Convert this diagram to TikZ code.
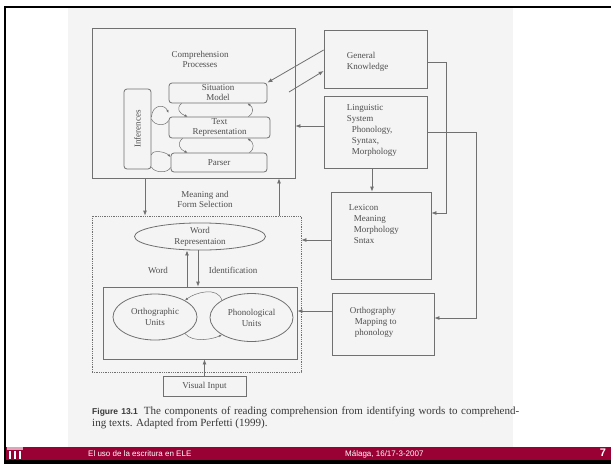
\documentclass[tikz,border=0pt]{standalone}
\usepackage{fontspec}
\setmainfont{Liberation Serif}
\newfontfamily\slidefont{Liberation Sans}
\usepackage{xcolor}
\usetikzlibrary{positioning,shapes.geometric,arrows.meta}
\definecolor{linegray}{RGB}{112,112,112}
\definecolor{inkgray}{RGB}{78,78,78}
\definecolor{scangray}{RGB}{244,244,244}
\definecolor{footred}{RGB}{153,0,51}

\begin{document}
\begin{tikzpicture}[x=1pt,y=-1pt,
box/.style={draw=linegray,line width=0.8pt,rectangle,inner sep=0pt,text=inkgray,
    font=\fontsize{9}{10}\selectfont,align=center},
pill/.style={box,rounded corners=3pt},
oval/.style={draw=linegray,line width=0.8pt,ellipse,inner sep=0pt,text=inkgray,
    font=\fontsize{9}{11}\selectfont,align=center},
txt/.style={text=inkgray,font=\fontsize{9}{11}\selectfont,align=left,inner sep=0pt,anchor=north west},
arr/.style={draw=linegray,line width=0.8pt,-{Latex[length=5pt,width=4pt]}},
curl/.style={draw=linegray,line width=0.5pt,-{Latex[length=3pt,width=2.5pt]}},
foot/.style={text=white,inner sep=0pt,font=\slidefont\fontsize{8}{9}\selectfont}]
\useasboundingbox (0,0) rectangle (611,464);
% slide frame and scanned page
\fill[scangray] (68,8) rectangle (513,447);
\fill[black] (4,6) rectangle (611,8);
\fill[black] (4,6) rectangle (6,464);
\fill[black] (4,460) rectangle (611,464);
\fill[footred] (6,447) rectangle (611,460);
\fill[footred!35] (7,447) rectangle (23,450);
\foreach \cx in {9,14,19}
  \fill[white] (\cx,451) rectangle ++(2,8);
\node (footleft) [foot,anchor=west] at (88,454) {El uso de la escritura en ELE};
\node (footmid) [foot,anchor=west] at (345,454) {Málaga, 16/17-3-2007};
\node (pagenum) [foot,font=\slidefont\bfseries\fontsize{11}{12}\selectfont] at (603,453) {7};

% comprehension processes
\node (compproc) [box,minimum width=203pt,minimum height=150pt] at (193.5,103) {};
\node (comptitle) [box,draw=none] at (200,59) {Comprehension\\Processes};
\node (sitmod) [pill,minimum width=98pt,minimum height=20pt] at (218,93) {Situation\\Model};
\node (textrep) [pill,minimum width=101pt,minimum height=21pt] at (219.5,127.5) {Text\\Representation};
\node (parser) [pill,minimum width=96pt,minimum height=19pt] at (219,162.5) {Parser};
\node (infer) [pill,minimum width=27pt,minimum height=80pt] at (137.5,129) {\rotatebox{90}{Inferences}};
\node (meanlbl) [box,draw=none] at (205,199) {Meaning and\\Form Selection};

% word identification
\node (wordbox) [box,densely dotted,minimum width=209pt,minimum height=156pt] at (196.5,294) {};
\node (wordrep) [oval,minimum width=131pt,minimum height=27pt] at (200,236.5) {Word\\Representaion};
\node (wordlbl) [box,draw=none] at (158,270) {Word};
\node (identlbl) [box,draw=none] at (233,270) {Identification};
\node (unitbox) [box,minimum width=194pt,minimum height=72pt] at (200,323) {};
\node (orthunit) [oval,minimum width=84pt,minimum height=46pt] at (155,317) {Orthographic\\Units};
\node (phonunit) [oval,minimum width=83pt,minimum height=48pt] at (251.5,317.5) {Phonological\\Units};
\node (visinput) [box,minimum width=83pt,minimum height=20pt] at (204.5,386) {Visual Input};

% knowledge sources
\node (genknow) [box,minimum width=103pt,minimum height=58pt] at (375.5,59) {};
\node (genknowtxt) [txt] at ([shift={(23,22)}]genknow.north west) {General\\Knowledge};
\node (lingsys) [box,minimum width=103pt,minimum height=72pt] at (375.5,132) {};
\node (lingsystxt) [txt] at ([shift={(23,9)}]lingsys.north west)
    {Linguistic\\System\\\hspace*{5pt}Phonology,\\\hspace*{5pt}Syntax,\\\hspace*{5pt}Morphology};
\node (lexicon) [box,minimum width=100pt,minimum height=87pt] at (381,235.5) {};
\node (lexicontxt) [txt] at ([shift={(18,13)}]lexicon.north west)
    {Lexicon\\\hspace*{5pt}Meaning\\\hspace*{5pt}Morphology\\\hspace*{5pt}Sntax};
\node (orthmap) [box,minimum width=102pt,minimum height=62pt] at (383,324) {};
\node (orthmaptxt) [txt] at ([shift={(18,14)}]orthmap.north west)
    {Orthography\\\hspace*{5pt}Mapping to\\\hspace*{5pt}phonology};

\node (caption) [anchor=north west,text width=427pt,align=justify,inner sep=0pt,
    text={black!78},font=\fontsize{11}{12}\selectfont] at (92,407)
    {{\slidefont\bfseries\fontsize{8.5}{12}\selectfont Figure 13.1}\hspace{6pt}The components
    of reading comprehension from identifying words to comprehend-\linebreak
    ing texts. Adapted from Perfetti (1999).};

% connectors
\coordinate (gkfree) at (289,92);
\draw[arr] ([yshift=9pt]genknow.west) -- (sitmod.north east);
\draw[arr] (gkfree) -- ([yshift=-12pt]genknow.west);
\draw[arr] ([yshift=6pt]lingsys.west) -- ([yshift=6pt]lingsys.west -| compproc.east);
\draw[arr] ([xshift=-3.5pt]lingsys.south) -- ([xshift=-3.5pt]lingsys.south |- lexicon.north);
\draw[arr] ([yshift=-3pt]genknow.east) -- ++(19,0) |- ([yshift=22.5pt]lexicon.east);
\draw[arr] (lingsys.east) -- ++(49,0) |- ([yshift=6pt]orthmap.east);
\draw[arr] ([yshift=-4.5pt]lexicon.west) -- ([yshift=-4.5pt]lexicon.west -| wordbox.east);
\draw[arr] ([yshift=13pt]orthmap.west) -- ([yshift=13pt]orthmap.west -| unitbox.east);
\draw[arr] ([xshift=-48.5pt]compproc.south) -- ([xshift=-48.5pt]compproc.south |- wordbox.north);
\draw[arr] ([xshift=85.5pt]compproc.south |- wordbox.north) -- ([xshift=85.5pt]compproc.south);
\draw[arr] ([xshift=-13pt]unitbox.north) -- ([xshift=-13pt]wordrep.south);
\draw[arr] ([xshift=-2pt]wordrep.south) -- ([xshift=-2pt]unitbox.north);
\draw[arr] (visinput.north) -- (visinput.north |- unitbox.south);

% small loops
\draw[curl] ([xshift=13pt]sitmod.south west) .. controls +(-6,5) and +(-8,-3) .. ([xshift=19pt]textrep.north west);
\draw[curl] ([xshift=-22pt]textrep.north east) .. controls +(6,-4) and +(6,4) .. ([xshift=-20pt]sitmod.south east);
\draw[curl] ([xshift=14pt]textrep.south west) .. controls +(-6,5) and +(-8,-3) .. ([xshift=17pt]parser.north west);
\draw[curl] ([xshift=-18pt]parser.north east) .. controls +(6,-4) and +(6,4) .. ([xshift=-23pt]textrep.south east);
\draw[curl] ([yshift=12pt]infer.east) .. controls +(1,-13) and +(-4,-9) .. ([yshift=14.5pt]textrep.west);
\draw[curl,-] ([yshift=7pt]textrep.west) .. controls +(-3,6) and +(3,7) .. ([yshift=10pt]infer.east);
\draw[curl] ([yshift=-26pt]infer.east) .. controls +(1,-6) and +(-5,-5) .. ([yshift=5.5pt]parser.west);
\draw[curl,-] ([yshift=-5pt]parser.west) .. controls +(-3,6) and +(3,6) .. ([yshift=-38pt]infer.east);
\draw[curl] (phonunit.north west) .. controls +(-4,-14) and +(10,-8) .. (orthunit.north east);
\draw[curl] (orthunit.south east) .. controls +(8,10) and +(-8,4) .. (phonunit.south west);
\end{tikzpicture}
\end{document}
